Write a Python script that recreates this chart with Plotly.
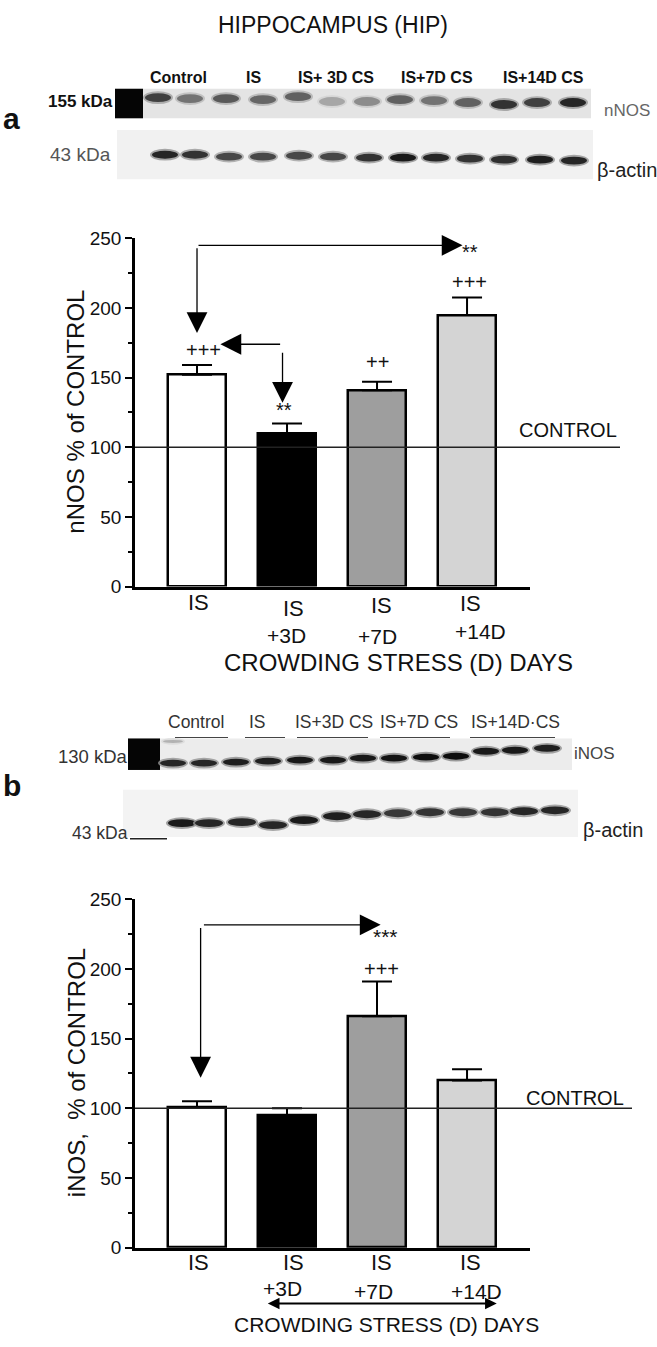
import plotly.graph_objects as go

W, H = 657, 1347


def px(x):
    return x / W


def py(y):
    return 1 - y / H


# ---------------- data ----------------
groups = ["IS", "IS+3D", "IS+7D", "IS+14D"]
label_top = ["IS", "IS", "IS", "IS"]
label_bottom = ["", "+3D", "+7D", "+14D"]
nnos_mean = [152, 110, 141, 195]
nnos_sem = [7, 7, 6, 12.5]
inos_mean = [101, 95, 166, 120]
inos_sem = [4, 5, 25, 8]
bar_colors = ["#ffffff", "#000000", "#9e9e9e", "#d4d4d4"]
y_ticks = [0, 50, 100, 150, 200, 250]
control_level = 100

lane_labels_a = ["Control", "IS", "IS+ 3D CS", "IS+7D CS", "IS+14D CS"]
lane_labels_b = ["Control", "IS", "IS+3D CS", "IS+7D CS", "IS+14D\u00b7CS"]
nnos_band = [0.75, 0.55, 0.65, 0.6, 0.62, 0.35, 0.45, 0.62, 0.55, 0.62, 0.8, 0.75, 0.85]
actin_a_band = [0.85, 0.8, 0.72, 0.72, 0.72, 0.72, 0.8, 0.9, 0.85, 0.8, 0.82, 0.88, 0.85]
inos_band = [0.85, 0.85, 0.88, 0.88, 0.9, 0.9, 0.9, 0.92, 0.95, 0.95, 0.9, 0.9, 0.88]
actin_b_band = [0.9, 0.85, 0.85, 0.85, 0.9, 0.88, 0.85, 0.78, 0.8, 0.78, 0.8, 0.85, 0.85]

FONT = "Liberation Sans, Arial, sans-serif"

fig = go.Figure()

# ---------------- bar charts ----------------
for vals, errs, xa, ya in [(nnos_mean, nnos_sem, "x", "y"), (inos_mean, inos_sem, "x2", "y2")]:
    fig.add_trace(go.Bar(
        x=list(range(len(groups))), y=vals, width=0.644,
        marker=dict(color=bar_colors, line=dict(color="black", width=2.5)),
        error_y=dict(type="data", symmetric=False, array=errs, arrayminus=[0] * len(errs),
                     color="black", thickness=2, width=15),
        xaxis=xa, yaxis=ya, showlegend=False, hoverinfo="skip",
    ))

xdom = [px(135), px(529.5)]
xr = [-0.689, 3.694]
common_x = dict(range=xr, showgrid=False, zeroline=False, showticklabels=False, ticks="",
                showline=True, linecolor="black", linewidth=2.5, fixedrange=True)
common_y = dict(range=[0, 250], tickvals=y_ticks, showgrid=False, zeroline=False,
                showline=True, linecolor="black", linewidth=2.5, ticks="outside",
                ticklen=7, tickwidth=2, tickcolor="black",
                minor=dict(dtick=25, ticks="outside", ticklen=4, tickwidth=2, tickcolor="black"),
                tickfont=dict(family=FONT, size=19, color="#111"), fixedrange=True)

fig.update_layout(
    width=W, height=H, margin=dict(l=0, r=0, t=0, b=0),
    paper_bgcolor="white", plot_bgcolor="rgba(0,0,0,0)",
    bargap=0,
    xaxis=dict(domain=xdom, anchor="y", **common_x),
    yaxis=dict(domain=[py(585.7), py(232)], anchor="x", **common_y),
    xaxis2=dict(domain=xdom, anchor="y2", **common_x),
    yaxis2=dict(domain=[py(1257.3), py(903.3)], anchor="x2", **common_y),
)

shapes = []
ann = []


def text(x, y, s, size, xref="paper", yref="paper", color="#111", family=FONT,
         xanchor="center", yanchor="middle", **kw):
    ann.append(dict(x=x, y=y, xref=xref, yref=yref, text=s, showarrow=False,
                    xanchor=xanchor, yanchor=yanchor,
                    font=dict(family=family, size=size, color=color), **kw))


def arrow(x0, y0, x1, y1, xref, yref, size=3.2, width=1.3):
    ann.append(dict(x=x1, y=y1, ax=x0, ay=y0, xref=xref, yref=yref, axref=xref, ayref=yref,
                    text="", showarrow=True, arrowhead=2, arrowsize=size, arrowwidth=width,
                    arrowcolor="black", standoff=0))


# control lines
for yref, xend, ty, tx in [("y", 620, 427, 568), ("y2", 632, 1105.7, 575)]:
    shapes.append(dict(type="line", xref="paper", yref=yref, x0=px(135), x1=px(xend),
                       y0=control_level, y1=control_level, line=dict(color="#222", width=1.5),
                       layer="above"))
    text(px(tx), py(ty), "CONTROL", 20)

# y titles
text(px(76), py(408), "nNOS % of CONTROL", 24, textangle=-90)
text(px(76), py(1080), "iNOS,\u00a0 % of CONTROL", 24, textangle=-90)

# category labels
top_y_a = [602, 608, 605, 603]
bot_y_a = [0, 635, 636, 631]
top_y_b = [1272, 1272, 1272, 1272]
bot_y_b = [0, 1299, 1302, 1302]
top_dx = [1, 6, 4, 3]
bot_dx = [0, -1, 0, 13]
for i in range(len(groups)):
    text(i, py(top_y_a[i]), label_top[i], 22, xref="x", xshift=top_dx[i])
    text(i, py(top_y_b[i]), label_top[i], 22, xref="x2", xshift=top_dx[i])
    if label_bottom[i]:
        text(i, py(bot_y_a[i]), label_bottom[i], 21, xref="x", xshift=bot_dx[i])
        text(i, py(bot_y_b[i]), label_bottom[i], 21, xref="x2", xshift=bot_dx[i] - 4)

text(px(398), py(663), "CROWDING STRESS (D) DAYS", 24)
text(px(386), py(1335), "CROWDING STRESS (D) DAYS", 21)

# double-headed arrow panel b
ann.append(dict(x=3.33, y=py(1314), ax=0.77, ay=0, xref="x2", yref="paper", axref="x2", ayref="pixel",
                text="", showarrow=True, arrowhead=2, startarrowhead=2, arrowside="end+start",
                arrowsize=1.3, startarrowsize=1.3, arrowwidth=1.8, arrowcolor="black", standoff=0,
                startstandoff=0))

# significance marks panel a
text(0.07, 170, "+++", 20, xref="x", yref="y")
text(0.97, 127, "**", 20, xref="x", yref="y")
text(2.0, 161, "++", 20, xref="x", yref="y")
text(3.03, 218.5, "+++", 20, xref="x", yref="y")
text(3.03, 240, "**", 20, xref="x", yref="y")
arrow(0.0, 245, 2.95, 245, "x", "y")
arrow(0.0, 244, 0.0, 182, "x", "y")
arrow(0.94, 174, 0.26, 174, "x", "y")
arrow(0.95, 169, 0.95, 132, "x", "y")

# significance marks panel b
text(2.09, 223, "***", 21, xref="x2", yref="y2")
text(2.05, 200, "+++", 20, xref="x2", yref="y2")
arrow(0.06, 231.6, 2.04, 231.6, "x2", "y2")
arrow(0.04, 230.5, 0.04, 122, "x2", "y2")

# ---------------- title and panel letters ----------------
text(px(333), py(15), "HIPPOCAMPUS (HIP)", 23)
text(px(11), py(110), "<b>a</b>", 30)
text(px(12), py(788), "<b>b</b>", 30)


# ---------------- blots ----------------
def rect(x0, y0, x1, y1, color, layer="below"):
    shapes.append(dict(type="rect", xref="paper", yref="paper", x0=px(x0), x1=px(x1),
                       y0=py(y1), y1=py(y0), fillcolor=color, line=dict(width=0), layer=layer))


def gray(v):
    g = int(round(255 * (1 - v)))
    return f"rgb({g},{g},{g})"


def band(cx, cy, w, h, v):
    shapes.append(dict(type="circle", xref="paper", yref="paper",
                       x0=px(cx - w / 2 - 2), x1=px(cx + w / 2 + 2),
                       y0=py(cy + h / 2 + 2), y1=py(cy - h / 2 - 2),
                       fillcolor=gray(v * 0.5), line=dict(width=0), opacity=0.8, layer="above"))
    shapes.append(dict(type="circle", xref="paper", yref="paper",
                       x0=px(cx - w / 2), x1=px(cx + w / 2),
                       y0=py(cy + h / 2), y1=py(cy - h / 2),
                       fillcolor=gray(v), line=dict(width=0), layer="above"))


# panel a blot
rect(115, 80, 591, 110, "#e4e4e4")
rect(115, 80, 143, 110, "#050505")
rect(117, 122, 593, 172, "#f1f1f1")
lane_a = [158, 190, 226, 263, 298, 332, 367, 400, 434, 468, 504, 537, 573]
nnos_y = [89, 90, 90, 91, 88, 93, 93, 91, 92, 94, 96, 94, 94]
actin_lane_a = [165, 195, 229, 263, 299, 333, 369, 403, 436, 470, 504, 540, 574]
actin_y_a = [147, 147, 149, 149, 148, 149, 150, 150, 150, 151, 152, 152, 153]
for i, v in enumerate(nnos_band):
    band(lane_a[i], nnos_y[i], 26, 9, v)
for i, v in enumerate(actin_a_band):
    band(actin_lane_a[i], actin_y_a[i], 26, 8, v)

for s, cx in zip(lane_labels_a, [178, 253, 336, 437, 543]):
    text(px(cx), py(69), f"<b>{s}</b>", 16)
text(px(80), py(93), "<b>155 kDa</b>", 17)
text(px(80), py(147), "43 kDa", 19, color="#555")
text(px(627), py(102), "nNOS", 17, color="#666")
text(px(627), py(163), "\u03b2-actin", 20, color="#222")

# panel b blot
rect(128, 740, 572, 772, "#ececec")
rect(128, 740, 160, 772, "#050505")
rect(123, 792, 578, 840, "#f3f3f3")
lane_b = [173, 204, 236, 268, 300, 333, 363, 394, 426, 456, 486, 515, 547]
inos_y = [765, 765, 764, 763, 762, 762, 760, 760, 759, 758, 753, 752, 750]
actin_lane_b = [182, 209, 242, 273, 304, 337, 367, 398, 430, 463, 495, 524, 555]
actin_y_b = [826, 826, 825, 828, 823, 819, 817, 816, 815, 815, 815, 814, 813]
for i, v in enumerate(inos_band):
    band(lane_b[i], inos_y[i], 26, 7, v)
for i, v in enumerate(actin_b_band):
    band(actin_lane_b[i], actin_y_b[i], 28, 8, v)
band(173, 743, 20, 3, 0.3)

for s, cx in zip(lane_labels_b, [196, 257, 334, 419, 515]):
    text(px(cx), py(723), s, 17.5, color="#333")
for x0, x1 in [(175, 228), (245, 285), (297, 368), (380, 450), (470, 555)]:
    shapes.append(dict(type="line", xref="paper", yref="paper", x0=px(x0), x1=px(x1),
                       y0=py(739), y1=py(739), line=dict(color="#444", width=1.2)))
text(px(93), py(758), "130 kDa", 18.5, color="#333")
text(px(100), py(836), "43 kDa", 17.5, color="#333")
shapes.append(dict(type="line", xref="paper", yref="paper", x0=px(130), x1=px(167),
                   y0=py(842), y1=py(842), line=dict(color="#222", width=1.5)))
text(px(594), py(755), "iNOS", 17, color="#444")
text(px(613), py(833), "\u03b2-actin", 20, color="#222")

fig.update_layout(shapes=shapes, annotations=ann)
fig.write_html("out.html", config={"displayModeBar": False},
               post_script="document.body.style.margin='0px';")
